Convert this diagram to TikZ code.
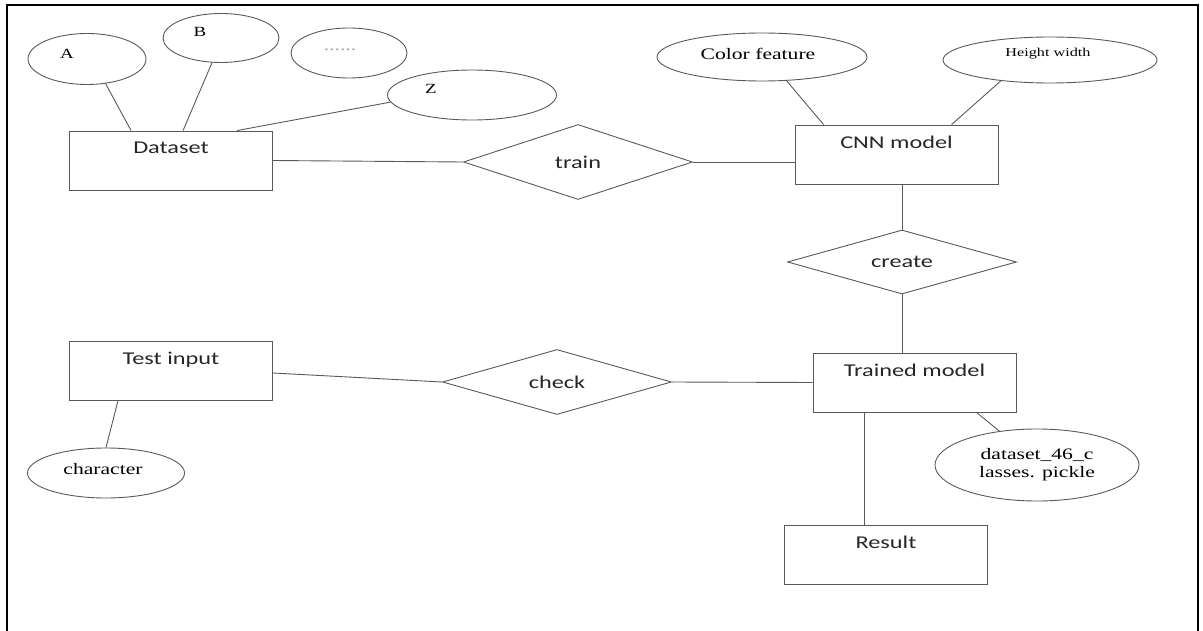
\documentclass[tikz,border=0pt]{standalone}
\usepackage{fontspec}
\usepackage{graphicx}
\usetikzlibrary{shapes.geometric}
\usetikzlibrary{calc}

\setmainfont{Liberation Serif}
\newfontfamily\carlito{Carlito}
\newcommand\boxfont{\carlito\fontsize{18}{20}\selectfont}
\newcommand\attrfont{\fontsize{16}{18}\selectfont}
\newcommand\wide[1]{\scalebox{1.35}[1]{#1}}
\definecolor{linegray}{gray}{0.35}
\definecolor{textgray}{gray}{0.15}

\tikzset{
	entity/.style={draw=linegray, rectangle, minimum width=203pt, minimum height=59pt, inner sep=0pt,
		label={[anchor=north, yshift=-11pt, inner sep=0pt, font=\boxfont, text=textgray]north:\wide{#1}}},
	relation/.style={draw=linegray, diamond, aspect=3, inner sep=0pt, minimum width=229pt,
		minimum height=#1, font=\boxfont, text=textgray},
	attr/.style={draw=linegray, ellipse, inner sep=0pt, font=\attrfont},
	link/.style={draw=linegray, line width=0.9pt}
}

\begin{document}
\begin{tikzpicture}[x=1pt, y=-1pt, line width=0.9pt]
	\useasboundingbox (0,0) rectangle (1203,631);
	% frame (open at the bottom)
	\draw[line width=2.5pt, black] (7,631) -- (7,5) -- (1198,5) -- (1198,631);

	% entities
	\node[entity=Dataset] (dataset) at (171,160.5) {};
	\node[entity=CNN model] (cnn) at (896.5,154.5) {};
	\node[entity=Trained model] (trained) at (914.5,382.5) {};
	\node[entity=Test input] (testin) at (171,370.5) {};
	\node[entity=Result] (result) at (886,554.5) {};

	% relations
	\node[relation=75pt] (train) at (578,162) {\wide{train}};
	\node[relation=64pt] (create) at (902,262) {\wide{create}};
	\node[relation=65pt] (check) at (557,382) {\wide{check}};

	% attributes
	\node[attr, minimum width=118pt, minimum height=51pt,
		label={[font=\fontsize{14}{16}\selectfont, xshift=-20pt, yshift=5pt]center:\wide{A}}] (a) at (87,59) {};
	\node[attr, minimum width=116pt, minimum height=49pt,
		label={[font=\fontsize{14}{16}\selectfont, xshift=-21pt, yshift=6pt]center:\wide{B}}] (b) at (221,38) {};
	\node[attr, minimum width=116pt, minimum height=50pt,
		label={[font=\attrfont, text=gray!70, xshift=-9pt, yshift=3pt]center:\wide{......}}] (etc) at (349,53) {};
	\node[attr, minimum width=169pt, minimum height=50pt,
		label={[font=\fontsize{14}{16}\selectfont, xshift=-41pt, yshift=6pt]center:\wide{Z}}] (z) at (472,95) {};
	\node[attr, minimum width=210pt, minimum height=48pt,
		label={[font=\attrfont, xshift=-4pt, yshift=3pt]center:\wide{Color feature}}] (color) at (762,57) {};
	\node[attr, minimum width=214pt, minimum height=46pt,
		label={[font=\fontsize{12}{14}\selectfont, xshift=-2pt, yshift=6pt]center:\wide{Height width}}] (hw) at (1050,60) {};
	\node[attr, minimum width=157pt, minimum height=50pt,
		label={[font=\attrfont, xshift=-3pt, yshift=4pt]center:\wide{character}}] (char) at (106,473) {};
	\node[attr, minimum width=204pt, minimum height=72pt, align=center]
		(pk) at (1037,465) {\wide{dataset\_46\_c}\\\wide{lasses. pickle}};

	% connectors
	\draw[link] (a.-53) -- ([xshift=62pt]dataset.north west);
	\draw[link] (b.-110) -- ([xshift=114pt]dataset.north west);
	\draw[link] (z.-175) -- ([xshift=168pt]dataset.north west);
	\draw[link] (dataset.east) -- (train.west);
	\draw[link] (train.east) -- (train.east -| cnn.west);
	\draw[link] (color.-44) -- ([xshift=29pt]cnn.north west);
	\draw[link] (hw.-157) -- ([xshift=157pt]cnn.north west);
	\draw[link] (create.north |- cnn.south) -- (create.north);
	\draw[link] (create.south) -- (create.south |- trained.north);
	\draw[link] ([yshift=-2.5pt]testin.east) -- (check.west);
	\draw[link] (check.east) -- (trained.west);
	\draw[link] ([xshift=49pt]testin.south west) -- (char.north);
	\draw[link] ([xshift=52pt]trained.south west) coordinate (down) -- (down |- result.north);
	\draw[link] ([xshift=164pt]trained.south west) -- (pk.138);
\end{tikzpicture}
\end{document}
